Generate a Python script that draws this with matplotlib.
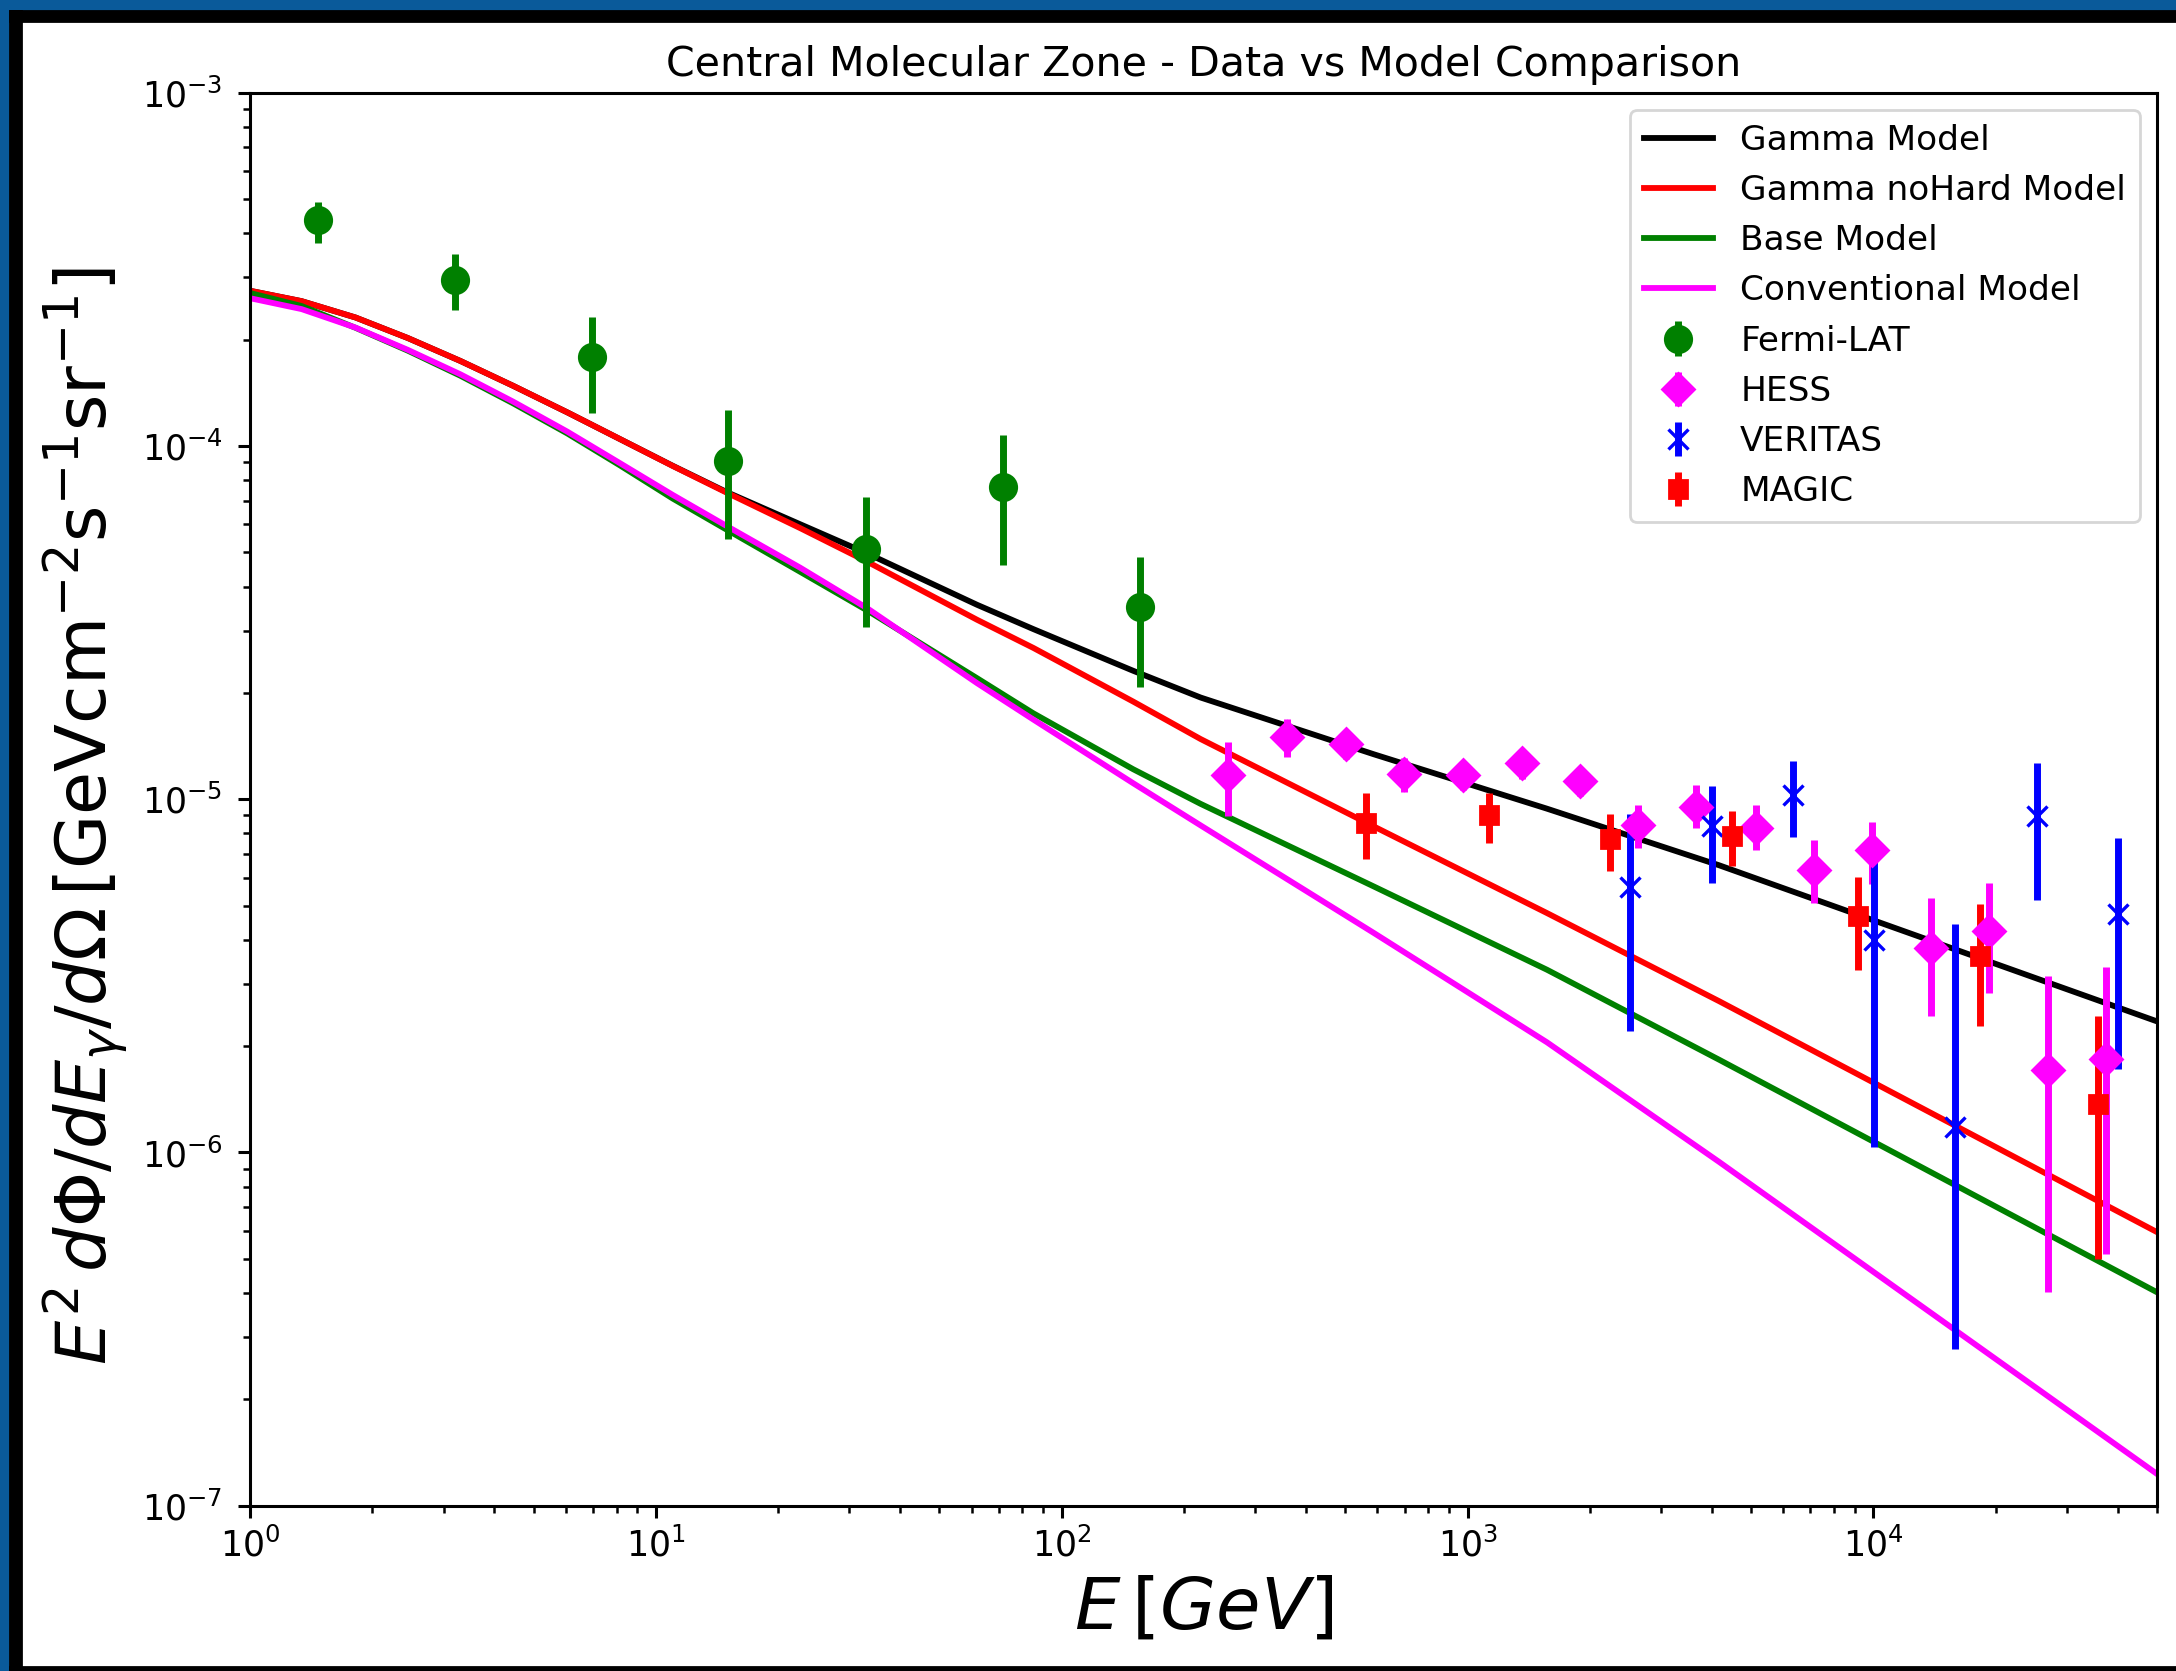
import numpy as np
from matplotlib import pyplot as plt
from matplotlib.patches import Rectangle

# model curves (E in GeV, E^2 dPhi/dE in GeV cm^-2 s^-1 sr^-1)
E_model = [1.0, 1.34, 1.82, 2.45, 3.3, 4.45, 6.05, 8.17, 11.0, 15.0, 22.7, 33.2,
           61.9, 85.2, 150, 220, 588, 1570, 4170, 50000]
gamma_model = [2.75e-4, 2.57e-4, 2.31e-4, 2.02e-4, 1.74e-4, 1.48e-4, 1.245e-4, 1.045e-4,
               8.79e-5, 7.39e-5, 6.0e-5, 4.96e-5, 3.55e-5, 3.03e-5, 2.31e-5, 1.94e-5,
               1.34e-5, 9.4e-6, 6.5e-6, 2.35e-6]
nohard_model = [2.75e-4, 2.57e-4, 2.31e-4, 2.02e-4, 1.74e-4, 1.48e-4, 1.245e-4, 1.045e-4,
                8.78e-5, 7.36e-5, 5.85e-5, 4.70e-5, 3.22e-5, 2.68e-5, 1.89e-5, 1.48e-5,
                8.37e-6, 4.76e-6, 2.68e-6, 5.95e-7]
base_model = [2.71e-4, 2.49e-4, 2.16e-4, 1.86e-4, 1.58e-4, 1.32e-4, 1.085e-4, 8.8e-5,
              7.1e-5, 5.78e-5, 4.40e-5, 3.42e-5, 2.20e-5, 1.75e-5, 1.216e-5, 9.7e-6,
              5.66e-6, 3.29e-6, 1.83e-6, 4.02e-7]
conv_model = [2.62e-4, 2.44e-4, 2.163e-4, 1.87e-4, 1.595e-4, 1.335e-4, 1.098e-4, 8.93e-5,
              7.27e-5, 5.92e-5, 4.52e-5, 3.47e-5, 2.13e-5, 1.68e-5, 1.11e-5, 8.43e-6,
              4.18e-6, 2.05e-6, 9.4e-7, 1.23e-7]

# data points: energy, flux, lower end, upper end of error bar
fermi_E = [1.47, 3.20, 6.96, 15.1, 33.0, 71.7, 156]
fermi_F = [4.36e-4, 2.95e-4, 1.79e-4, 9.07e-5, 5.11e-5, 7.67e-5, 3.49e-5]
fermi_lo = [3.76e-4, 2.42e-4, 1.243e-4, 5.45e-5, 3.08e-5, 4.61e-5, 2.08e-5]
fermi_hi = [4.91e-4, 3.49e-4, 2.32e-4, 1.265e-4, 7.16e-5, 1.075e-4, 4.86e-5]

hess_E = [257, 360, 502, 696, 973, 1360, 1891, 2628, 3652, 5152, 7138, 9903,
          13870, 19310, 26900, 37450]
hess_F = [1.17e-5, 1.50e-5, 1.43e-5, 1.18e-5, 1.17e-5, 1.265e-5, 1.125e-5, 8.44e-6,
          9.51e-6, 8.29e-6, 6.32e-6, 7.17e-6, 3.79e-6, 4.23e-6, 1.71e-6, 1.84e-6]
hess_lo = [8.97e-6, 1.32e-5, 1.30e-5, 1.05e-5, 1.06e-5, 1.14e-5, 1.02e-5, 7.26e-6,
           8.29e-6, 7.17e-6, 5.09e-6, 5.74e-6, 2.43e-6, 2.83e-6, 4.03e-7, 5.17e-7]
hess_hi = [1.45e-5, 1.69e-5, 1.57e-5, 1.31e-5, 1.28e-5, 1.385e-5, 1.234e-5, 9.61e-6,
           1.10e-5, 9.61e-6, 7.66e-6, 8.61e-6, 5.26e-6, 5.78e-6, 3.16e-6, 3.36e-6]

veritas_E = [2512, 3994, 6337, 10050, 15920, 25320, 40180]
veritas_F = [5.65e-6, 8.40e-6, 1.03e-5, 4.00e-6, 1.18e-6, 8.95e-6, 4.74e-6]
veritas_lo = [2.20e-6, 5.81e-6, 7.82e-6, 1.035e-6, 2.77e-7, 5.20e-6, 1.72e-6]
veritas_hi = [9.07e-6, 1.088e-5, 1.28e-5, 6.75e-6, 4.42e-6, 1.27e-5, 7.78e-6]

magic_E = [561, 1127, 2242, 4481, 9162, 18350, 35780]
magic_F = [8.59e-6, 9.05e-6, 7.74e-6, 7.86e-6, 4.67e-6, 3.59e-6, 1.37e-6]
magic_lo = [6.76e-6, 7.52e-6, 6.27e-6, 6.46e-6, 3.29e-6, 2.28e-6, 4.99e-7]
magic_hi = [1.04e-5, 1.04e-5, 9.07e-6, 9.25e-6, 6.03e-6, 5.05e-6, 2.44e-6]


def yerr(f, lo, hi):
    f = np.array(f)
    return [f - np.array(lo), np.array(hi) - f]


W, H = 2176, 1671
fig = plt.figure(figsize=(W / 200, H / 200), dpi=200, facecolor='white')

# slide background around the pasted plot
blue = '#0a5a9a'
fig.patches.append(Rectangle((0, 0), 10 / W, 1, transform=fig.transFigure, color=blue, zorder=0))
fig.patches.append(Rectangle((0, 1 - 11 / H), 1, 11 / H, transform=fig.transFigure, color=blue, zorder=0))
fig.patches.append(Rectangle((10 / W, 0), 11 / W, 1 - 11 / H, transform=fig.transFigure, color='black', zorder=0))
fig.patches.append(Rectangle((10 / W, 1 - 21 / H), 1, 10 / H, transform=fig.transFigure, color='black', zorder=0))
fig.patches.append(Rectangle((10 / W, 0), 1, 4 / H, transform=fig.transFigure, color='black', zorder=0))

ax = fig.add_axes([250 / W, 1 - 1505.7 / H, 1907 / W, 1413 / H])

ax.plot(E_model, gamma_model, color='black', lw=2.1, label='Gamma Model')
ax.plot(E_model, nohard_model, color='red', lw=2.1, label='Gamma noHard Model')
ax.plot(E_model, base_model, color='green', lw=2.1, label='Base Model')
ax.plot(E_model, conv_model, color='magenta', lw=2.1, label='Conventional Model')

ax.errorbar(fermi_E, fermi_F, yerr=yerr(fermi_F, fermi_lo, fermi_hi), fmt='o', color='green',
            ms=9.5, elinewidth=2.5, capsize=0, label='Fermi-LAT')
ax.errorbar(hess_E, hess_F, yerr=yerr(hess_F, hess_lo, hess_hi), fmt='D', color='magenta',
            ms=8.2, elinewidth=2.5, capsize=0, label='HESS')
ax.errorbar(veritas_E, veritas_F, yerr=yerr(veritas_F, veritas_lo, veritas_hi), fmt='x', color='blue',
            ms=7.5, mew=1.2, elinewidth=2.5, capsize=0, label='VERITAS')
ax.errorbar(magic_E, magic_F, yerr=yerr(magic_F, magic_lo, magic_hi), fmt='s', color='red',
            ms=6.5, elinewidth=2.5, capsize=0, label='MAGIC')

ax.set_xscale('log')
ax.set_yscale('log')
ax.set_xlim(1, 5e4)
ax.set_ylim(1e-7, 1e-3)

ax.set_title('Central Molecular Zone - Data vs Model Comparison', fontsize=14.8)
ax.set_xlabel(r'$E\,[GeV]$', fontsize=26)
ax.set_ylabel(r'$E^2\,d\Phi/dE_\gamma/d\Omega\,[\mathrm{GeV cm^{-2}s^{-1}sr^{-1}}]$', fontsize=25.2)
ax.yaxis.set_label_coords(-0.0627, 0.488)

for s in ax.spines.values():
    s.set_linewidth(1.1)
ax.tick_params(which='major', length=4.4, width=1.1, labelsize=12.5)
ax.tick_params(which='minor', length=2.5, width=0.9)
ax.tick_params(axis='y', which='major', pad=5.5)

ax.legend(loc='upper right', fontsize=12.4, labelspacing=0.5)

fig.savefig('out.png', dpi=200, facecolor=fig.get_facecolor())
